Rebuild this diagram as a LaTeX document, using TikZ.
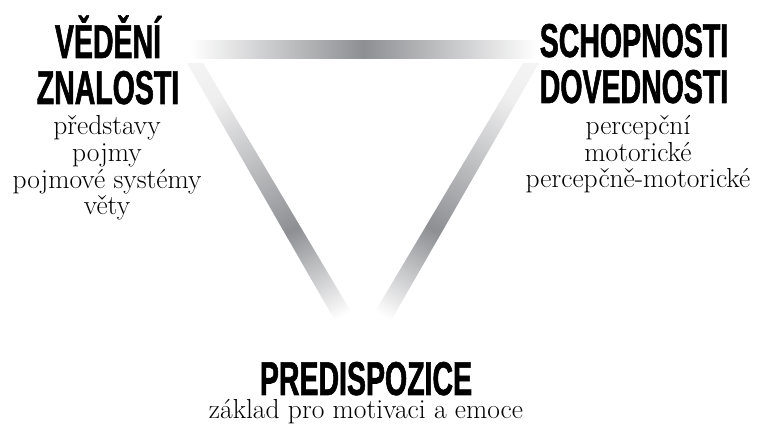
\documentclass[tikz,border=0pt]{standalone}
\usepackage{fontspec}
\setmainfont{Latin Modern Roman}
\newfontfamily\headfont[FakeStretch=0.6,FakeBold=1.2]{Liberation Sans}
\usetikzlibrary{positioning}
\definecolor{barGray}{RGB}{142,143,147}
\pgfdeclarehorizontalshading{topfade}{100bp}{color(0bp)=(white); color(25bp)=(white);
  color(50bp)=(barGray); color(75bp)=(white); color(100bp)=(white)}
\pgfdeclareverticalshading{sidefade}{100bp}{color(0bp)=(white); color(25bp)=(white);
  color(45bp)=(barGray); color(75bp)=(white!85!barGray); color(100bp)=(white)}
\tikzset{
  headnode/.style={align=center,inner sep=0pt,
                   font=\headfont\bfseries\fontsize{47.5}{46}\selectfont},
  subnode/.style={align=center,inner sep=0pt,
                  font=\fontsize{27.5}{26.7}\selectfont},
  topbar/.style={shading=topfade},
  leftbar/.style={shading=sidefade,shading angle=30},
  rightbar/.style={shading=sidefade,shading angle=-30}
}

\begin{document}
\begin{tikzpicture}[x=1pt,y=1pt]
  \useasboundingbox (0,0) rectangle (764,430);
  % triangle bars
  \shade[topbar] (190,371) rectangle (537,389);
  \shade[leftbar] (187,367) -- (203,367) -- (375,78) -- (353,78) -- cycle;
  \shade[rightbar] (539,367) -- (523,367) -- (351,78) -- (373,78) -- cycle;
  % headings
  \node[headnode,anchor=base] (vedeni) at (108,326) {VĚDĚNÍ\\ZNALOSTI};
  \node[headnode,anchor=base] (schopnosti) at (634,327) {SCHOPNOSTI\\DOVEDNOSTI};
  \node[headnode,anchor=base] (predispozice) at (366,35) {PREDISPOZICE};
  % descriptions
  \node[subnode,anchor=base] (vedeniText) at (107,215)
    {představy\\pojmy\\pojmové systémy\\věty};
  \node[subnode,anchor=base] (schopnostiText) at (638,242)
    {percepční\\motorické\\percepčně-motorické};
  \node[subnode,anchor=base] (predispoziceText) at (366,11)
    {základ pro motivaci a emoce};
\end{tikzpicture}
\end{document}
